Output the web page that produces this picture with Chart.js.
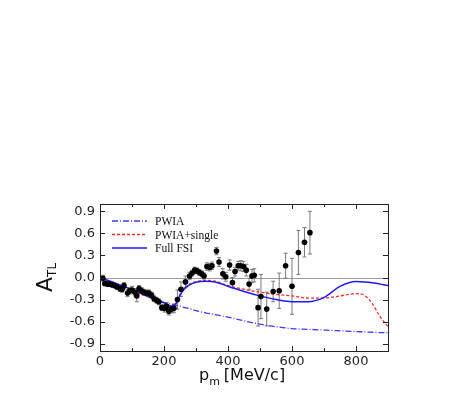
<!DOCTYPE html>
<html>
<head>
<meta charset="utf-8">
<script src="https://cdn.jsdelivr.net/npm/chart.js@4.4.1/dist/chart.umd.min.js"></script>
<style>
  body { margin: 0; background: #fff; }
  canvas { display: block; }
</style>
</head>
<body>
<canvas id="atlChart" width="463" height="409"></canvas>
<script>
// measured points: p_m, A_TL, error
const dataX = [9, 15, 23, 30, 38, 46, 53, 62, 69, 75, 86, 93, 100, 109, 115, 122, 130, 137, 145, 153,
    161, 169, 177, 184, 193, 201, 208, 215, 224, 231, 242, 253, 267, 280, 288, 296, 303, 310, 318, 325,
    334, 343, 350, 364, 372, 384, 393, 405, 414, 422, 432, 440, 448, 457, 466, 475, 482, 494, 503, 521,
    541, 560, 580, 600, 620, 639, 656];
const dataY = [-0.01, -0.08, -0.09, -0.09, -0.10, -0.11, -0.13, -0.15, -0.16, -0.11, -0.21, -0.18, -0.17, -0.20, -0.25, -0.15, -0.18, -0.20, -0.21, -0.21,
    -0.24, -0.29, -0.31, -0.33, -0.41, -0.42, -0.39, -0.46, -0.43, -0.42, -0.30, -0.16, -0.06, 0.02, 0.06, 0.10, 0.09, 0.07, 0.05, 0.02,
    0.15, 0.14, 0.16, 0.36, 0.21, 0.05, 0.01, 0.17, -0.07, 0.08, 0.16, 0.16, 0.15, 0.10, -0.09, 0.02, 0.03, -0.41, -0.26, -0.43,
    -0.19, -0.18, 0.16, -0.12, 0.34, 0.48, 0.61];
const dataErr = [0.04, 0.03, 0.03, 0.03, 0.03, 0.03, 0.03, 0.04, 0.04, 0.04, 0.05, 0.04, 0.05, 0.05, 0.08, 0.04, 0.04, 0.04, 0.04, 0.04,
    0.04, 0.04, 0.04, 0.04, 0.04, 0.05, 0.05, 0.05, 0.05, 0.06, 0.13, 0.10, 0.08, 0.05, 0.04, 0.04, 0.04, 0.04, 0.04, 0.04,
    0.05, 0.05, 0.05, 0.05, 0.06, 0.07, 0.06, 0.07, 0.07, 0.06, 0.06, 0.07, 0.07, 0.08, 0.08, 0.09, 0.09, 0.25, 0.30, 0.23,
    0.14, 0.24, 0.17, 0.38, 0.30, 0.20, 0.29];

// calculations
const curveX = [0, 50, 100, 150, 200, 220, 235, 250, 265, 280, 300, 330, 360, 400, 450, 500, 550, 600, 650, 700, 750, 800, 825, 850, 875, 900];
const pwia = [0, -0.08, -0.165, -0.255, -0.34, -0.36, -0.375, -0.39, -0.41, -0.425, -0.45, -0.48, -0.505, -0.54, -0.59, -0.635, -0.67, -0.695, -0.705, -0.715, -0.725, -0.735, -0.74, -0.745, -0.75, -0.75];
const single = [0, -0.085, -0.175, -0.265, -0.35, -0.385, -0.36, -0.23, -0.14, -0.09, -0.055, -0.04, -0.05, -0.11, -0.16, -0.20, -0.23, -0.25, -0.28, -0.28, -0.25, -0.22, -0.24, -0.35, -0.53, -0.67];
const fullFsi = [0, -0.08, -0.165, -0.255, -0.345, -0.39, -0.37, -0.24, -0.15, -0.10, -0.065, -0.05, -0.06, -0.12, -0.19, -0.25, -0.30, -0.33, -0.33, -0.27, -0.12, -0.055, -0.06, -0.07, -0.09, -0.11];

const xLabelTicks = [0, 200, 400, 600, 800];
const yTicks = [-0.9, -0.6, -0.3, 0.0, 0.3, 0.6, 0.9];

const legendItems = [
    { text: 'PWIA', color: '#3a3aff', dash: [6, 2, 1, 2] },
    { text: 'PWIA+single', color: '#ff2a2a', dash: [3, 2] },
    { text: 'Full FSI', color: '#1a1aff', dash: [] }
];

function zip(xs, ys) {
    return xs.map((x, i) => ({ x: x, y: ys[i] }));
}

// error bars, zero line, frame, legend and axis titles
const decorPlugin = {
    id: 'decor',
    beforeDatasetsDraw(chart) {
        const { ctx, chartArea: a, scales: { x, y } } = chart;
        ctx.save();
        ctx.strokeStyle = '#9a9a9a';
        ctx.lineWidth = 1;
        const y0 = Math.round(y.getPixelForValue(0)) + 0.5;
        ctx.beginPath();
        ctx.moveTo(a.left, y0);
        ctx.lineTo(a.right, y0);
        ctx.stroke();

        ctx.strokeStyle = '#7a7a7a';
        dataX.forEach((v, i) => {
            const px = x.getPixelForValue(v);
            const top = y.getPixelForValue(dataY[i] + dataErr[i]);
            const bot = y.getPixelForValue(dataY[i] - dataErr[i]);
            ctx.beginPath();
            ctx.moveTo(px, top);
            ctx.lineTo(px, bot);
            ctx.moveTo(px - 2, top);
            ctx.lineTo(px + 2, top);
            ctx.moveTo(px - 2, bot);
            ctx.lineTo(px + 2, bot);
            ctx.stroke();
        });
        ctx.restore();
    },
    afterDraw(chart) {
        const { ctx, chartArea: a, scales: { x, y } } = chart;
        ctx.save();
        // frame
        ctx.strokeStyle = '#222';
        ctx.lineWidth = 1;
        ctx.strokeRect(Math.round(a.left) + 0.5, Math.round(a.top) + 0.5,
            Math.round(a.right - a.left), Math.round(a.bottom - a.top));
        // inward ticks
        ctx.beginPath();
        for (let v = 0; v <= 900; v += 100) {
            const px = Math.round(x.getPixelForValue(v)) + 0.5;
            const len = v % 200 === 0 ? 5 : 3;
            ctx.moveTo(px, a.bottom);
            ctx.lineTo(px, a.bottom - len);
            ctx.moveTo(px, a.top);
            ctx.lineTo(px, a.top + len);
        }
        yTicks.forEach(v => {
            const py = Math.round(y.getPixelForValue(v)) + 0.5;
            ctx.moveTo(a.left, py);
            ctx.lineTo(a.left + 5, py);
            ctx.moveTo(a.right, py);
            ctx.lineTo(a.right - 5, py);
        });
        ctx.stroke();

        // legend
        ctx.font = '11.5px "Liberation Serif"';
        ctx.textBaseline = 'middle';
        legendItems.forEach((it, i) => {
            const ly = 221 + i * 13.5;
            ctx.strokeStyle = it.color;
            ctx.lineWidth = 1.3;
            ctx.setLineDash(it.dash);
            ctx.beginPath();
            ctx.moveTo(112, ly);
            ctx.lineTo(147, ly);
            ctx.stroke();
            ctx.setLineDash([]);
            ctx.fillStyle = '#111';
            ctx.fillText(it.text, 155, ly + 1);
        });

        // x title
        ctx.fillStyle = '#111';
        ctx.textBaseline = 'alphabetic';
        ctx.font = '16px "DejaVu Sans"';
        let tx = 199;
        ctx.fillText('p', tx, 380);
        tx += ctx.measureText('p').width;
        ctx.font = '11px "DejaVu Sans"';
        ctx.fillText('m', tx, 385);
        tx += ctx.measureText('m').width + 4;
        ctx.font = '16px "DejaVu Sans"';
        ctx.fillText('[MeV/c]', tx, 380);

        // y title, rotated
        ctx.translate(52, 292);
        ctx.rotate(-Math.PI / 2);
        ctx.font = '22px "DejaVu Sans"';
        ctx.fillText('A', 0, 0);
        const aw = ctx.measureText('A').width;
        ctx.font = '12px "DejaVu Sans"';
        ctx.fillText('TL', aw, 4);
        ctx.restore();
    }
};

const tickFont = { family: 'DejaVu Sans', size: 13 };

new Chart(document.getElementById('atlChart'), {
    data: {
        datasets: [
            {
                type: 'scatter',
                label: 'data',
                data: zip(dataX, dataY),
                pointRadius: 2.8,
                pointBackgroundColor: '#000',
                pointBorderColor: '#000',
                pointBorderWidth: 0,
                order: 0
            },
            {
                type: 'line',
                label: 'PWIA',
                data: zip(curveX, pwia),
                borderColor: legendItems[0].color,
                borderDash: legendItems[0].dash,
                borderWidth: 1.3,
                pointRadius: 0,
                cubicInterpolationMode: 'monotone',
                order: 3
            },
            {
                type: 'line',
                label: 'PWIA+single',
                data: zip(curveX, single),
                borderColor: legendItems[1].color,
                borderDash: legendItems[1].dash,
                borderWidth: 1.3,
                pointRadius: 0,
                cubicInterpolationMode: 'monotone',
                order: 2
            },
            {
                type: 'line',
                label: 'Full FSI',
                data: zip(curveX, fullFsi),
                borderColor: legendItems[2].color,
                borderWidth: 1.5,
                pointRadius: 0,
                cubicInterpolationMode: 'monotone',
                order: 1
            }
        ]
    },
    options: {
        responsive: false,
        devicePixelRatio: 1,
        animation: false,
        layout: { padding: { top: 204, right: 75, left: 0, bottom: 0 } },
        plugins: {
            legend: { display: false },
            tooltip: { enabled: false }
        },
        scales: {
            x: {
                type: 'linear',
                min: 0,
                max: 900,
                afterFit: s => { s.height = 58; },
                afterBuildTicks: s => { s.ticks = xLabelTicks.map(v => ({ value: v })); },
                grid: { display: false, drawTicks: false },
                border: { display: false },
                ticks: { font: tickFont, color: '#222', padding: 3, maxRotation: 0, autoSkip: false }
            },
            y: {
                type: 'linear',
                min: -1,
                max: 1,
                afterFit: s => { s.width = 100; },
                afterBuildTicks: s => { s.ticks = yTicks.map(v => ({ value: v })); },
                grid: { display: false, drawTicks: false },
                border: { display: false },
                ticks: {
                    font: tickFont,
                    color: '#222',
                    padding: 5,
                    callback: v => v.toFixed(1)
                }
            }
        }
    },
    plugins: [decorPlugin]
});
</script>
</body>
</html>
